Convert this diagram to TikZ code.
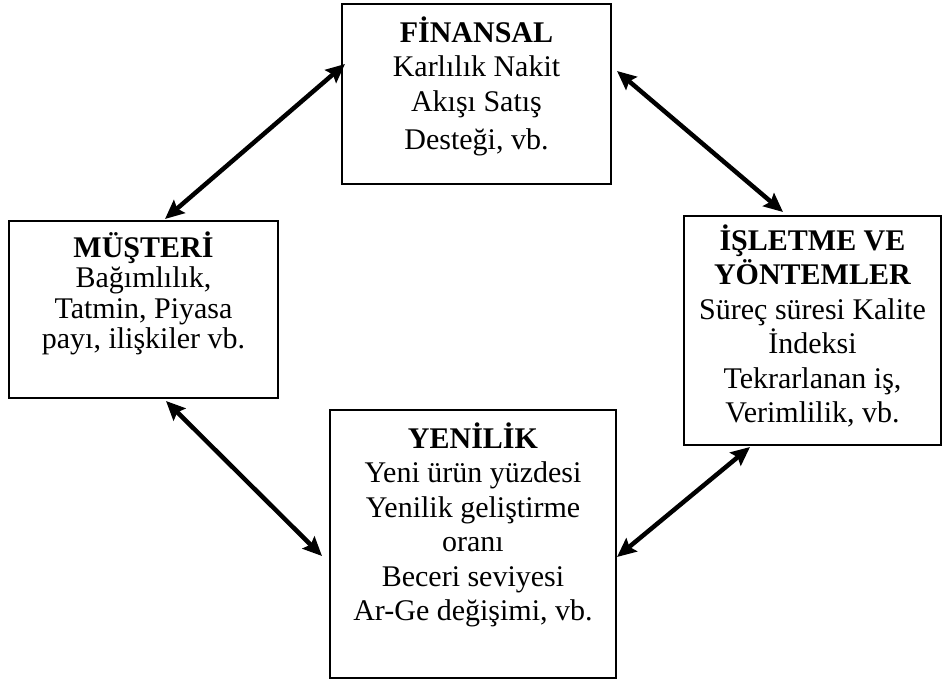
\documentclass[tikz,border=0pt]{standalone}
\usepackage{fontspec}
\setmainfont{Liberation Serif}
\usetikzlibrary{arrows.meta}
\begin{document}
\begin{tikzpicture}[x=1pt,y=1pt,
  box/.style={draw, line width=1.8pt, inner sep=0pt, outer sep=0pt},
  lbl/.style={align=center, inner sep=0pt, anchor=north, font=\fontsize{30}{34.5}\selectfont},
  arr/.style={line width=4.5pt, {Stealth[length=19pt,width=17pt,inset=3pt]}-{Stealth[length=19pt,width=17pt,inset=3pt]}}]
\useasboundingbox (0,0) rectangle (944,680);
% boxes
\node[box, minimum width=269pt, minimum height=180pt] (fin) at (476.5,586) {};
\node[box, minimum width=269pt, minimum height=177pt] (mus) at (143.5,370.5) {};
\node[box, minimum width=257pt, minimum height=229pt] (isl) at (812.5,349.5) {};
\node[box, minimum width=286pt, minimum height=268pt] (yen) at (473,136) {};
% texts
\node[lbl] (fint) at ([yshift=-10pt]fin.north) {\rule{0pt}{28pt}\textbf{FİNANSAL}\\Karlılık Nakit\\Akışı Satış\\[4pt]Desteği, vb.};
\node[lbl, font=\fontsize{30}{30.5}\selectfont] (must) at ([yshift=-8pt]mus.north) {\rule{0pt}{28pt}\textbf{MÜŞTERİ}\\Bağımlılık,\\Tatmin, Piyasa\\payı, ilişkiler vb.};
\node[lbl] (islt) at ([yshift=-6pt]isl.north) {\rule{0pt}{28pt}\textbf{İŞLETME VE}\\\textbf{YÖNTEMLER}\\Süreç süresi Kalite\\İndeksi\\Tekrarlanan iş,\\Verimlilik, vb.};
\node[lbl] (yent) at ([yshift=-10pt]yen.north) {\rule{0pt}{28pt}\textbf{YENİLİK}\\Yeni ürün yüzdesi\\Yenilik geliştirme\\oranı\\Beceri seviyesi\\Ar-Ge değişimi, vb.};
% connector end points
\coordinate (a1s) at ([shift={(3pt,-60pt)}]fin.north west);
\coordinate (a1e) at ([shift={(156pt,2pt)}]mus.north west);
\coordinate (a2s) at ([shift={(6pt,-67pt)}]fin.north east);
\coordinate (a2e) at ([shift={(99pt,4pt)}]isl.north west);
\coordinate (a3s) at ([shift={(157pt,-3pt)}]mus.south west);
\coordinate (a3e) at ([shift={(-8pt,-146pt)}]yen.north west);
\coordinate (a4s) at ([shift={(1pt,121pt)}]yen.south east);
\coordinate (a4e) at ([shift={(66pt,-2pt)}]isl.south west);
% connectors
\draw[arr] (a1s) -- (a1e);
\draw[arr] (a2s) -- (a2e);
\draw[arr] (a3s) -- (a3e);
\draw[arr] (a4s) -- (a4e);
\end{tikzpicture}
\end{document}
